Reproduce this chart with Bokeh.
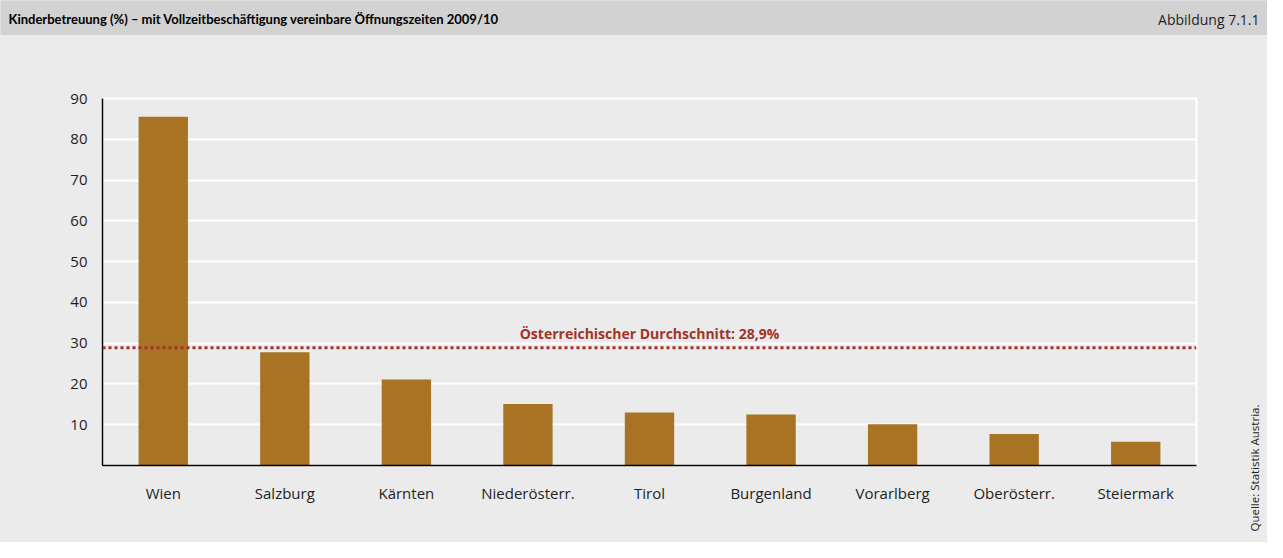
import math
from bokeh.plotting import figure
from bokeh.layouts import column, row
from bokeh.models import Span, FixedTicker, Range1d, ColumnDataSource
from bokeh.core.properties import value
from bokeh.embed import file_html
from bokeh.resources import INLINE

# ---- data ----
regions = ["Wien", "Salzburg", "Kärnten", "Niederösterr.", "Tirol",
           "Burgenland", "Vorarlberg", "Oberösterr.", "Steiermark"]
shares = [85.5, 27.8, 21.1, 15.1, 13.0, 12.5, 10.1, 7.7, 5.8]
y_ticks = [10, 20, 30, 40, 50, 60, 70, 80, 90]
average = 28.9
average_label = "Österreichischer Durchschnitt: 28,9%"
title_text = "Kinderbetreuung (%) – mit Vollzeitbeschäftigung vereinbare Öffnungszeiten 2009/10"
figure_no = "Abbildung 7.1.1"
source_note = "Quelle: Statistik Austria."

# ---- styles ----
BAR = "#a87423"
RED = "#a3322a"
BG = "#ebebeb"
BAR_BG = "#d1d2d1"
TXT = "#1e1e1e"
FONT = "Open Sans"

W, H = 1267, 542
HEAD_H = 35
SIDE_W = 40
BODY_H = H - HEAD_H
MAIN_W = W - SIDE_W
F_LEFT, F_RIGHT = 102, 1196
F_TOP, F_BOTTOM = 98, 465


def blank(width, height, fill):
    f = figure(width=width, height=height, x_range=Range1d(0, width),
               y_range=Range1d(0, height), output_backend="svg",
               toolbar_location=None, min_border=0,
               min_border_left=0, min_border_right=0,
               min_border_top=0, min_border_bottom=0)
    f.axis.visible = False
    f.grid.visible = False
    f.outline_line_color = None
    f.background_fill_color = fill
    f.border_fill_color = fill
    f.frame_align = False
    return f


# ---- header bar ----
head = blank(W, HEAD_H, BAR_BG)
head.text(x=[8], y=[HEAD_H - 18.5], text=[title_text],
          text_font=value("Lato"), text_font_style="bold",
          text_font_size="13px", text_color="black",
          text_align="left", text_baseline="middle")
head.text(x=[W - 8], y=[HEAD_H - 18.5], text=[figure_no],
          text_font=value(FONT), text_font_size="14px", text_color=TXT,
          text_align="right", text_baseline="middle")

# ---- main chart ----
p = figure(x_range=regions, y_range=Range1d(0, 90), width=MAIN_W, height=BODY_H,
           output_backend="svg", toolbar_location=None,
           min_border_left=F_LEFT, min_border_right=MAIN_W - F_RIGHT,
           min_border_top=F_TOP - HEAD_H, min_border_bottom=H - F_BOTTOM)
p.frame_align = False
p.background_fill_color = BG
p.border_fill_color = BG
p.outline_line_color = "white"
p.outline_line_width = 2

src = ColumnDataSource(dict(region=regions, share=shares))
p.vbar(x="region", top="share", width=0.406, source=src,
       fill_color=BAR, line_color=None)

p.xgrid.grid_line_color = None
p.ygrid.grid_line_color = "white"
p.ygrid.grid_line_width = 2
p.ygrid.ticker = FixedTicker(ticks=y_ticks)
p.ygrid.level = "underlay"

p.yaxis.ticker = FixedTicker(ticks=y_ticks)
for ax in (p.xaxis[0], p.yaxis[0]):
    ax.axis_line_color = "black"
    ax.axis_line_width = 1.5
    ax.major_tick_line_color = None
    ax.minor_tick_line_color = None
    ax.major_label_text_font = FONT
    ax.major_label_text_font_size = "15px"
    ax.major_label_text_color = TXT
p.yaxis.major_label_standoff = 9
p.xaxis.major_label_standoff = 11

p.add_layout(Span(location=average, dimension="width", line_color=RED,
                  line_width=3, line_dash="3 3"))
p.text(x=[regions[4]], y=[average + 3.4], text=[average_label],
       text_color=RED, text_font=value(FONT), text_font_style="bold",
       text_font_size="14px", text_align="center", text_baseline="alphabetic")

# ---- side strip with source note ----
side = blank(SIDE_W, BODY_H, BG)
side.text(x=[1254 - MAIN_W], y=[BODY_H - (531 - HEAD_H)], text=[source_note],
          angle=math.pi / 2, text_font=value(FONT), text_font_size="11.5px",
          text_color=TXT, text_align="left", text_baseline="middle")

body = row(p, side, spacing=0, styles={"background-color": BG})
layout = column(head, body, spacing=0, styles={"background-color": BG})
open("out.html", "w").write(file_html(layout, INLINE))
